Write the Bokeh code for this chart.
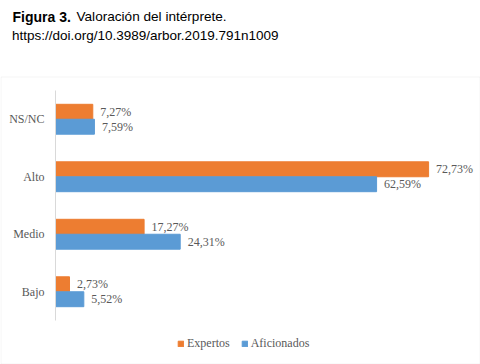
from bokeh.plotting import figure
from bokeh.models import ColumnDataSource, Range1d, Legend, BoxAnnotation
from bokeh.transform import dodge
from bokeh.core.properties import value
from bokeh.embed import file_html
from bokeh.resources import INLINE

# ---- data ----
categories = ["Bajo", "Medio", "Alto", "NS/NC"]          # bottom -> top
expertos = [2.73, 17.27, 72.73, 7.27]
aficionados = [5.52, 24.31, 62.59, 7.59]
series_names = ["Expertos", "Aficionados"]
title_bold = "Figura 3."
title_rest = "Valoración del intérprete."
title_line2 = "https://doi.org/10.3989/arbor.2019.791n1009"

ORANGE = "#ED7D31"
BLUE = "#5B9BD5"
GRAY_TXT = "#595959"
BORDER_GRAY = "#d9d9d9"
SERIF = "Times New Roman"
SANS = "Liberation Sans"


def fmt(v):
    return f"{v:.2f}".replace(".", ",") + "%"


positions = [i + 0.5 for i in range(len(categories))]

src = ColumnDataSource(dict(
    pos=positions,
    cat=categories,
    exp=expertos,
    afi=aficionados,
    exp_lbl=[fmt(v) for v in expertos],
    afi_lbl=[fmt(v) for v in aficionados],
))

# ---- layout (pixels on the canvas) ----
W, H = 480, 364
LEFT = 55            # canvas x of the category baseline
TOP = 90             # canvas y of the top of the category band
BOTTOM = 320         # canvas y of the bottom of the category band
unit_px = (BOTTOM - TOP) / len(categories)
px_per_pct = 5.13

x0 = -LEFT / px_per_pct
x1 = (W - LEFT) / px_per_pct
y1 = len(categories) + TOP / unit_px
y0 = -(H - BOTTOM) / unit_px


def cx(px):
    return x0 + px / px_per_pct


def cy(py):
    return y1 - py / unit_px


p = figure(
    width=W, height=H, frame_width=W, frame_height=H,
    x_range=Range1d(x0, x1), y_range=Range1d(y0, y1),
    x_axis_location=None, y_axis_location=None,
    output_backend="svg", toolbar_location=None,
    min_border=0, min_border_left=0, min_border_right=0,
    min_border_top=0, min_border_bottom=0,
)
p.outline_line_color = None
p.xgrid.visible = False
p.ygrid.visible = False

# chart area border
p.add_layout(BoxAnnotation(left=cx(0.5), right=cx(479.5), top=cy(76.5), bottom=cy(363.5),
                           fill_alpha=0, line_color=BORDER_GRAY, line_width=1))

# title
tf = dict(text_font=value(SANS), text_color="#000000",
          text_baseline="alphabetic", text_align="left")
p.text(x=[cx(12)], y=[cy(16)], text=[title_bold], text_font_style="bold",
       text_font_size="14px", **tf)
p.text(x=[cx(76)], y=[cy(16)], text=[title_rest], text_font_size="13.6px", **tf)
p.text(x=[cx(11.5)], y=[cy(34.5)], text=[title_line2], text_font_size="13.5px", **tf)

off = 0.13
bh = 0.26
r_exp = p.hbar(y=dodge("pos", off), left=0, right="exp", height=bh,
               color=ORANGE, source=src)
r_afi = p.hbar(y=dodge("pos", -off), left=0, right="afi", height=bh,
               color=BLUE, source=src)

for col, lbl, o in (("exp", "exp_lbl", off), ("afi", "afi_lbl", -off)):
    p.text(x=col, y=dodge("pos", o), text=lbl, source=src,
           x_offset=7.5, text_baseline="middle", text_align="left",
           text_font=value(SERIF), text_font_size="12px", text_color=GRAY_TXT)

# category axis: baseline + labels
p.segment(x0=[0], y0=[0], x1=[0], y1=[len(categories)], line_color=BORDER_GRAY, line_width=1)
p.text(x=0, y="pos", text="cat", source=src, x_offset=-11,
       text_align="right", text_baseline="middle",
       text_font=value(SERIF), text_font_size="12px", text_color=GRAY_TXT)

legend = Legend(
    items=[(series_names[0], [r_exp]), (series_names[1], [r_afi])],
    orientation="horizontal", location=(177, 13),
    glyph_width=7, glyph_height=7, label_height=12, label_standoff=3, spacing=11,
    padding=0, margin=0, border_line_color=None, background_fill_alpha=0,
    label_text_font=SERIF, label_text_font_size="12px", label_text_color=GRAY_TXT,
)
p.add_layout(legend)

open("out.html", "w").write(file_html(p, INLINE))
